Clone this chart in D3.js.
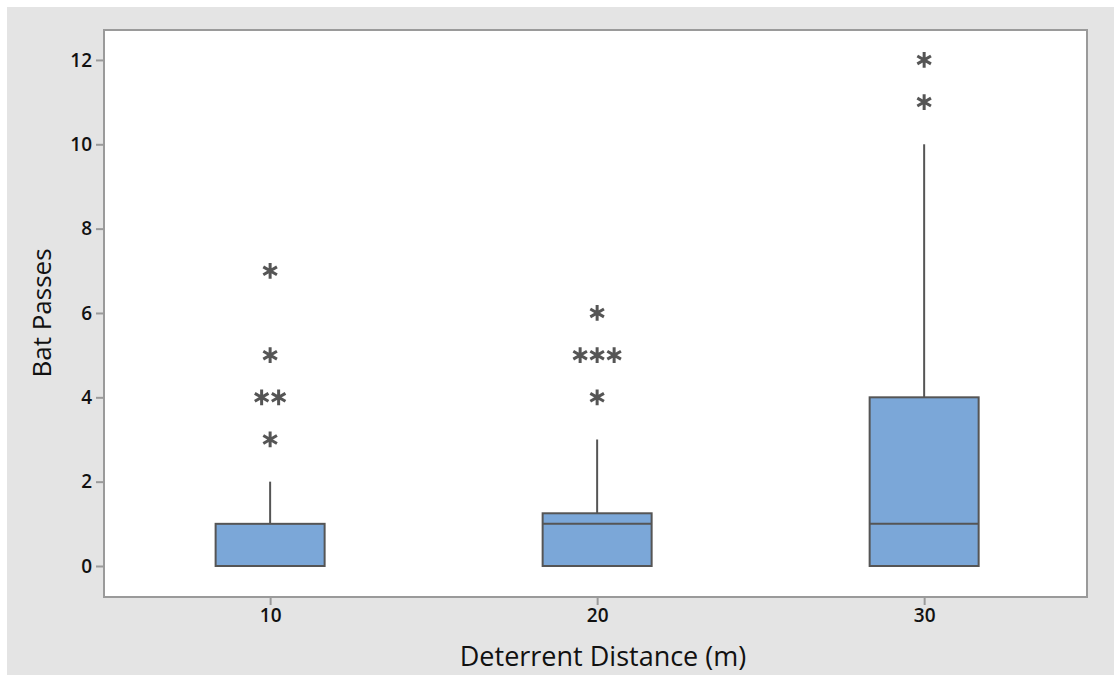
<!DOCTYPE html>
<html>
<head>
<meta charset="utf-8">
<script src="https://cdn.jsdelivr.net/npm/d3@7"></script>
<style>
  html, body { margin: 0; padding: 0; background: #ffffff; }
  svg { display: block; }
  text { font-family: "Open Sans", "Noto Sans", sans-serif; fill: #111; }
</style>
</head>
<body>
<svg id="chart" width="1114" height="677"></svg>
<script>
// Bat passes by deterrent distance: box summaries and outliers
const distances = [10, 20, 30];
const q1 = [0, 0, 0];
const medians = [0, 1, 1];
const q3 = [1, 1.25, 4];
const whiskerLow = [0, 0, 0];
const whiskerHigh = [2, 3, 10];
// outliers: [group distance, value, horizontal jitter slot]
const outliers = [
  [10, 3, 0], [10, 4, -0.5], [10, 4, 0.5], [10, 5, 0], [10, 7, 0],
  [20, 4, 0], [20, 5, -1], [20, 5, 0], [20, 5, 1], [20, 6, 0],
  [30, 11, 0], [30, 12, 0]
];
const yTicks = [0, 2, 4, 6, 8, 10, 12];
const xTicks = [10, 20, 30];

const svg = d3.select("#chart");
const frame = { left: 104, right: 1087, top: 30, bottom: 597 };

// page background panel
svg.append("rect").attr("x", 7).attr("y", 7).attr("width", 1107).attr("height", 668)
  .attr("fill", "#e4e4e4");

const x = d3.scaleLinear().domain([4.92, 34.98]).range([frame.left, frame.right]);
const y = d3.scaleLinear().domain([-0.735, 12.71]).range([frame.bottom, frame.top]);

// plot area
svg.append("rect")
  .attr("x", frame.left).attr("y", frame.top)
  .attr("width", frame.right - frame.left).attr("height", frame.bottom - frame.top)
  .attr("fill", "#ffffff").attr("stroke", "#9a9a9a").attr("stroke-width", 2);

// axes
const yAxis = d3.axisLeft(y).tickValues(yTicks).tickSize(7).tickPadding(4);
const gy = svg.append("g").attr("transform", `translate(${frame.left - 1},0)`).call(yAxis);
gy.select(".domain").remove();
gy.selectAll(".tick line").attr("stroke", "#9a9a9a").attr("stroke-width", 2);
gy.selectAll(".tick text").attr("font-size", 19).attr("font-weight", 600).attr("fill", "#111");

const xAxis = d3.axisBottom(x).tickValues(xTicks).tickSize(7).tickPadding(4);
const gx = svg.append("g").attr("transform", `translate(0,${frame.bottom + 1})`).call(xAxis);
gx.select(".domain").remove();
gx.selectAll(".tick line").attr("stroke", "#9a9a9a").attr("stroke-width", 2);
gx.selectAll(".tick text").attr("font-size", 19).attr("font-weight", 600).attr("fill", "#111");

// axis titles
svg.append("text").attr("x", 603).attr("y", 666)
  .attr("text-anchor", "middle").attr("font-size", 27).text("Deterrent Distance (m)");
svg.append("text")
  .attr("transform", `translate(51,313) rotate(-90)`)
  .attr("text-anchor", "middle").attr("font-size", 26).text("Bat Passes");

const boxHalf = 5 / 3; // half width in data units
const stroke = "#555555";

distances.forEach((d, i) => {
  const g = svg.append("g");
  // whiskers
  g.append("line").attr("x1", x(d)).attr("x2", x(d))
    .attr("y1", y(q3[i])).attr("y2", y(whiskerHigh[i]))
    .attr("stroke", stroke).attr("stroke-width", 2);
  g.append("line").attr("x1", x(d)).attr("x2", x(d))
    .attr("y1", y(q1[i])).attr("y2", y(whiskerLow[i]))
    .attr("stroke", stroke).attr("stroke-width", 2);
  // box
  g.append("rect")
    .attr("x", x(d - boxHalf)).attr("width", x(d + boxHalf) - x(d - boxHalf))
    .attr("y", y(q3[i])).attr("height", y(q1[i]) - y(q3[i]))
    .attr("fill", "#7ba7d8").attr("stroke", stroke).attr("stroke-width", 2);
  // median
  g.append("line")
    .attr("x1", x(d - boxHalf)).attr("x2", x(d + boxHalf))
    .attr("y1", y(medians[i])).attr("y2", y(medians[i]))
    .attr("stroke", stroke).attr("stroke-width", 2);
});

// outlier asterisks
const star = d3.symbol().type(d3.symbolAsterisk).size(175);
svg.append("g").selectAll("path").data(outliers).join("path")
  .attr("d", star)
  .attr("transform", o => `translate(${x(o[0]) + o[2] * 17},${y(o[1])})`)
  .attr("fill", "none").attr("stroke", "#555555").attr("stroke-width", 3);
</script>
</body>
</html>
